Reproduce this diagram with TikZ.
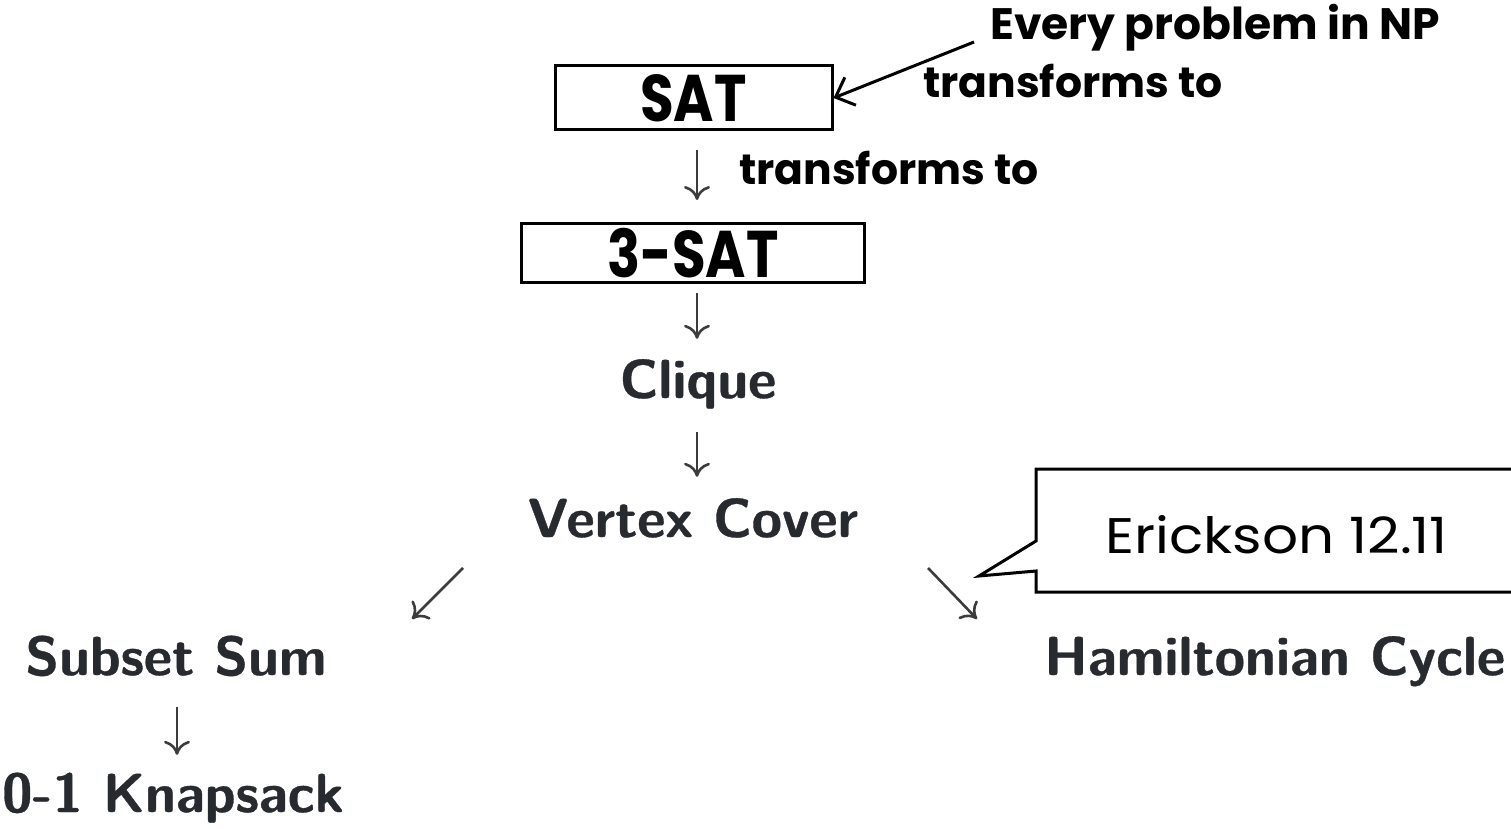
\documentclass[tikz,border=0pt]{standalone}
\usepackage{fontspec}
\usetikzlibrary{arrows.meta}
\newfontfamily\gothic{Poppins}
\newfontfamily\lmsb{Latin Modern Sans}[BoldFeatures={FakeBold=0.6}]
\definecolor{ink}{HTML}{272A2E}
\definecolor{arrowgray}{HTML}{3C3C3C}
\newcommand{\lmsbfont}{\fontsize{55}{60}\selectfont\lmsb\bfseries}
\newcommand{\boxfont}{\fontsize{66}{70}\selectfont\gothic\bfseries}
\newcommand{\notefont}{\fontsize{44}{48}\selectfont\gothic\bfseries}
\newcommand{\smallnotefont}{\fontsize{42.5}{46}\selectfont\gothic\bfseries}
\newcommand{\callfont}{\fontsize{50}{54}\selectfont\gothic}
\newcommand{\narrow}[1]{\scalebox{0.83}[1]{#1}}
\tikzset{
  lbl/.style={font=\lmsbfont, text=ink, inner sep=0pt, anchor=base,
              text height=38pt, text depth=11pt},
  probbox/.style={draw=black, line width=3pt, inner sep=0pt, font=\boxfont},
  down/.style={draw=arrowgray, line width=2.6pt,
               -{Computer Modern Rightarrow[length=14pt,width=26pt]}},
  note/.style={font=\notefont, inner sep=0pt, anchor=base west},
  pointer/.style={draw=black, line width=3pt,
                  -{Straight Barb[length=16pt,width=30pt,line width=3pt]}},
  callout/.style={draw=black, line width=3pt, line join=miter, fill=white}
}
\begin{document}
\begin{tikzpicture}[x=1pt,y=-1pt]
\useasboundingbox (0,0) rectangle (1511,829);
\fill[white] (0,0) rectangle (1511,829);

% boxed problems
\node[probbox, minimum width=277pt, minimum height=64pt] (sat) at (693.5,98) {\narrow{SAT}};
\node[probbox, minimum width=343pt, minimum height=59pt] (tsat) at (693,253) {\narrow{3-SAT}};

% reduction chain
\node[lbl] (clq) at (698,398) {Clique};
\node[lbl] (vc)  at (693,537) {Vertex Cover};
\node[lbl] (ss)  at (176,675) {Subset Sum};
\node[lbl] (ks)  at (173,812) {0-1 Knapsack};
\node[lbl, anchor=base west] (hc) at (1044,675) {Hamiltonian Cycle};

% annotations
\node[note] (every) at (990,40) {Every problem in NP};
\node[note, font=\smallnotefont] (tr1) at (923,98) {transforms to};
\node[note, font=\smallnotefont] (tr2) at (739,185) {transforms to};
\coordinate (npTail) at (974,42);
\draw[pointer] (npTail) -- (sat.east);

% vertical reductions
\draw[down, shorten <=19pt, shorten >=22pt] (sat.south -| 697,0) -- (tsat.north -| 697,0);
\draw[down, shorten <=9pt, shorten >=21pt] (tsat.south -| 697,0) -- (clq.north -| 697,0);
\draw[down, shorten <=23pt, shorten >=22pt] (clq.south -| 697,0) -- (vc.north -| 697,0);
\draw[down, shorten <=21pt, shorten >=19pt] (ss.south -| 177,0) -- (ks.north -| 177,0);

% diagonal reductions from Vertex Cover
\coordinate (swFrom) at (463,568);
\coordinate (swTo)   at (412,619);
\coordinate (seFrom) at (928,568);
\coordinate (seTo)   at (977,619);
\draw[down] (swFrom) -- (swTo);
\draw[down] (seFrom) -- (seTo);

% callout
\draw[callout] (1036,469) -- (1540,469) -- (1540,592) -- (1036,592)
  -- (1036,571) -- (979,576) -- (1036,541) -- cycle;
\node[font=\callfont, inner sep=0pt, anchor=base west] (eri) at (1105,553)
  {\scalebox{1.13}[1]{Erickson 12.11}};
\end{tikzpicture}
\end{document}
